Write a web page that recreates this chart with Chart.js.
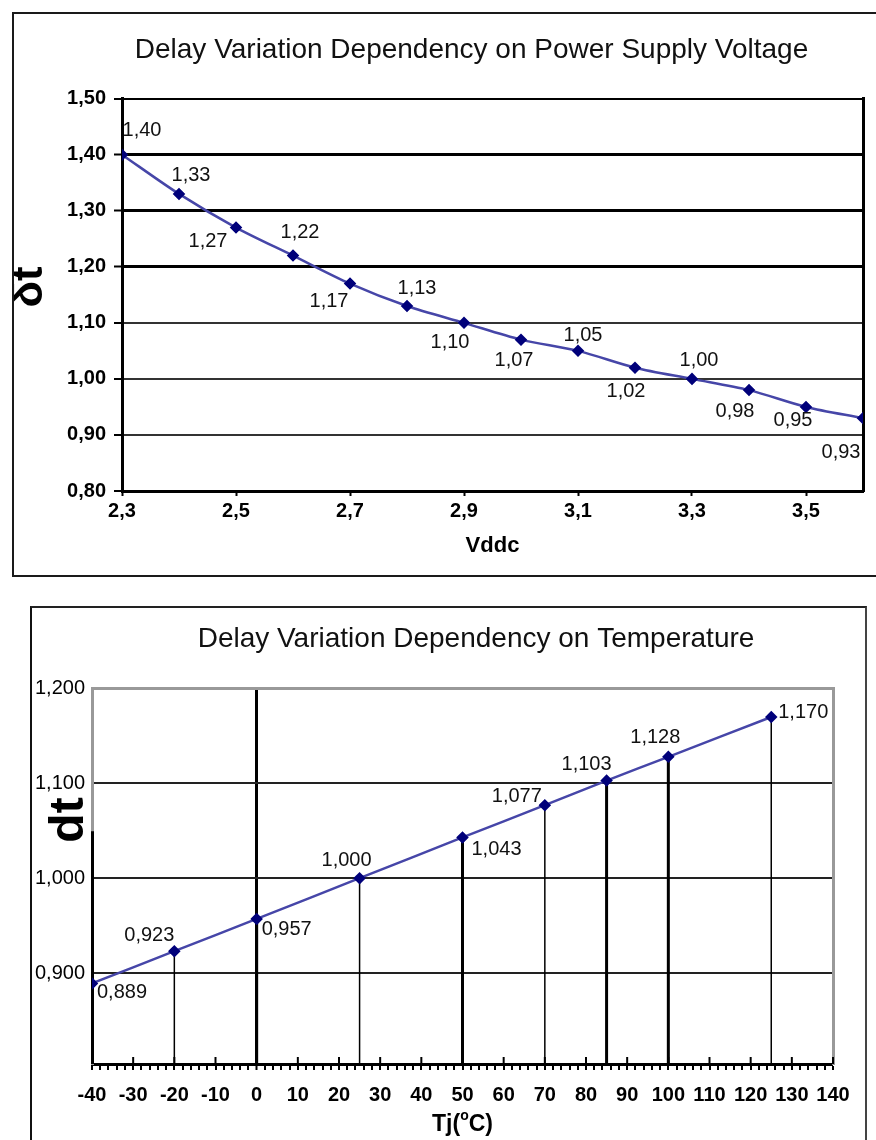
<!DOCTYPE html>
<html>
<head>
<meta charset="utf-8">
<script src="https://cdn.jsdelivr.net/npm/chart.js@4.4.1/dist/chart.umd.min.js"></script>
<style>
  html, body { margin: 0; padding: 0; background: #fff; overflow: hidden; }
  .box { position: absolute; }
  #boxV { left: 12px; top: 12px; width: 900px; height: 561px; border: 2px solid #1a1a1a; }
  #boxT { left: 30px; top: 606px; width: 833px; height: 560px; border-left: 2px solid #111; border-top: 2px solid #222; border-right: 2px solid #444; }
  canvas { position: absolute; left: 0; top: 0; }
</style>
</head>
<body>
<div class="box" id="boxV"><canvas id="voltChart" width="915" height="561"></canvas></div>
<div class="box" id="boxT"><canvas id="tempChart" width="888" height="532"></canvas></div>
<script>
// supply voltage chart
const vddc = [2.3, 2.4, 2.5, 2.6, 2.7, 2.8, 2.9, 3.0, 3.1, 3.2, 3.3, 3.4, 3.5, 3.6];
const delayV = [1.40, 1.33, 1.27, 1.22, 1.17, 1.13, 1.10, 1.07, 1.05, 1.02, 1.00, 0.98, 0.95, 0.93];
const vddcTicks = [2.3, 2.5, 2.7, 2.9, 3.1, 3.3, 3.5];
const delayVTicks = [0.8, 0.9, 1.0, 1.1, 1.2, 1.3, 1.4, 1.5];

// temperature chart
const temps = [-40, -20, 0, 25, 50, 70, 85, 100, 125];
const delayT = [0.889, 0.923, 0.957, 1.000, 1.043, 1.077, 1.103, 1.128, 1.170];
const tempTicks = [-40, -30, -20, -10, 0, 10, 20, 30, 40, 50, 60, 70, 80, 90, 100, 110, 120, 130, 140];
const delayTTicks = [0.9, 1.0, 1.1, 1.2];

Chart.defaults.font.family = "'Liberation Sans', Arial, sans-serif";
Chart.defaults.color = '#000';

const fmt = (v, d) => v.toFixed(d).replace('.', ',');
const tenth = v => Math.round(v * 10);

// drop lines, value labels and rotated axis titles
const extras = {
  id: 'extras',
  beforeDatasetsDraw(chart, args, opts) {
    const {ctx, chartArea} = chart;
    const pts = chart.getDatasetMeta(0).data;
    ctx.save();
    ctx.strokeStyle = '#000';
    (opts.dropWidths || []).forEach((w, i) => {
      if (!w) return;
      ctx.lineWidth = w;
      ctx.beginPath();
      ctx.moveTo(pts[i].x, pts[i].y);
      ctx.lineTo(pts[i].x, chartArea.bottom);
      ctx.stroke();
    });
    if (opts.crossTicks) {
      const xs = chart.scales.x;
      ctx.lineWidth = 2;
      opts.crossTicks.forEach(v => {
        const px = xs.getPixelForValue(v);
        ctx.beginPath();
        ctx.moveTo(px, chartArea.bottom - 7);
        ctx.lineTo(px, chartArea.bottom);
        ctx.stroke();
      });
    }
    if (opts.leftBlack) {
      const px = Math.round(chart.scales.y.right - 1.5) + 1.5;
      ctx.lineWidth = 3;
      ctx.beginPath();
      ctx.moveTo(px, chartArea.bottom);
      ctx.lineTo(px, chartArea.bottom - chartArea.height * opts.leftBlack);
      ctx.stroke();
    }
    ctx.restore();
  },
  afterDatasetsDraw(chart, args, opts) {
    const {ctx, chartArea} = chart;
    const ds = chart.data.datasets[0];
    const pts = chart.getDatasetMeta(0).data;
    ctx.save();
    ctx.font = opts.labelFont;
    ctx.fillStyle = '#111';
    ctx.textAlign = 'center';
    ctx.textBaseline = 'middle';
    pts.forEach((p, i) => {
      const [dx, dy] = opts.labelOffsets[i];
      ctx.fillText(fmt(ds.data[i].y, opts.digits), p.x + dx, p.y + dy);
    });
    const t = opts.sideTitle;
    ctx.font = t.font;
    ctx.fillStyle = '#000';
    ctx.translate(chart.scales.y.left + t.x, chartArea.top + chartArea.height * t.yFrac);
    ctx.rotate(-Math.PI / 2);
    ctx.fillText(t.text, 0, 0);
    ctx.restore();

    if (opts.tempTitle) {
      const big = "bold 23px 'Liberation Sans', Arial, sans-serif";
      const small = "bold 14px 'Liberation Sans', Arial, sans-serif";
      const parts = [['Tj(', big, 0], ['o', small, 11], ['C)', big, 0]];
      ctx.save();
      ctx.fillStyle = '#000';
      ctx.textBaseline = 'alphabetic';
      ctx.textAlign = 'left';
      let total = 0;
      parts.forEach(p => { ctx.font = p[1]; total += ctx.measureText(p[0]).width; });
      let x = (chartArea.left + chartArea.right) / 2 - total / 2;
      const base = chart.height - 9;
      parts.forEach(p => {
        ctx.font = p[1];
        ctx.fillText(p[0], x, base - p[2]);
        x += ctx.measureText(p[0]).width;
      });
      ctx.restore();
    }
  }
};
Chart.register(extras);

new Chart(document.getElementById('voltChart'), {
  type: 'line',
  data: {
    datasets: [{
      data: vddc.map((x, i) => ({x: x, y: delayV[i]})),
      borderColor: '#4646a8',
      borderWidth: 2.5,
      pointStyle: 'rectRot',
      pointRadius: 4.5,
      pointBackgroundColor: '#00007a',
      pointBorderColor: '#00007a',
      tension: 0.3
    }]
  },
  options: {
    responsive: false,
    animation: false,
    devicePixelRatio: 1,
    plugins: {
      legend: {display: false},
      tooltip: {enabled: false},
      title: {
        display: true,
        text: 'Delay Variation Dependency on Power Supply Voltage',
        color: '#111',
        font: {size: 28, weight: 'normal'},
        padding: {top: 19, bottom: 32}
      },
      extras: {
        digits: 2,
        labelFont: "20px 'Liberation Sans', Arial, sans-serif",
        labelOffsets: [[20, -24], [12, -18], [-28, 14], [7, -23], [-21, 18], [10, -18], [-14, 20],
                       [-7, 21], [5, -15], [-9, 24], [7, -18], [-14, 21], [-13, 14], [-22, 34]],
        sideTitle: {text: 'δt', font: "bold 44px 'Liberation Sans', Arial, sans-serif", x: 16, yFrac: 0.48}
      }
    },
    scales: {
      x: {
        type: 'linear',
        min: 2.3,
        max: 3.6,
        afterBuildTicks: s => { s.ticks = vddcTicks.map(v => ({value: v})); },
        afterFit: s => { s.height = 84; },
        ticks: {font: {size: 20, weight: 'bold'}, padding: 3, autoSkip: false, maxRotation: 0,
                callback: v => fmt(v, 1)},
        grid: {drawOnChartArea: false, tickLength: 5, tickWidth: 2, tickColor: '#000'},
        border: {color: '#000', width: 3},
        title: {display: true, text: 'Vddc', font: {size: 22, weight: 'bold'}, padding: {top: 0, bottom: 16}}
      },
      y: {
        min: 0.8,
        max: 1.5,
        afterBuildTicks: s => { s.ticks = delayVTicks.map(v => ({value: v})); },
        afterFit: s => { s.width = 108; },
        ticks: {font: {size: 20, weight: 'bold'}, padding: 8, callback: v => fmt(v, 2)},
        grid: {
          color: c => (tenth(c.tick.value) >= 12 ? '#000' : '#333'),
          lineWidth: c => {
            const t = tenth(c.tick.value);
            if (t === 8) return 0;
            if (t >= 12 && t <= 14) return 3;
            return 2;
          },
          tickLength: 8,
          tickWidth: 2,
          tickColor: '#000'
        },
        border: {color: '#000', width: 3}
      },
      y2: {
        position: 'right',
        afterFit: s => { s.width = 66; },
        ticks: {display: false},
        grid: {display: false, drawTicks: false},
        border: {color: '#000', width: 3}
      }
    }
  }
});

new Chart(document.getElementById('tempChart'), {
  type: 'line',
  data: {
    datasets: [{
      data: temps.map((x, i) => ({x: x, y: delayT[i]})),
      borderColor: '#4646a8',
      borderWidth: 2.5,
      pointStyle: 'rectRot',
      pointRadius: 4.5,
      pointBackgroundColor: '#00007a',
      pointBorderColor: '#00007a',
      tension: 0.2
    }]
  },
  options: {
    responsive: false,
    animation: false,
    devicePixelRatio: 1,
    plugins: {
      legend: {display: false},
      tooltip: {enabled: false},
      title: {
        display: true,
        text: 'Delay Variation Dependency on Temperature',
        color: '#111',
        font: {size: 28, weight: 'normal'},
        padding: {top: 14, bottom: 33}
      },
      extras: {
        digits: 3,
        labelFont: "20px 'Liberation Sans', Arial, sans-serif",
        labelOffsets: [[30, 9], [-25, -16], [30, 11], [-13, -18], [34, 12], [-28, -9], [-20, -16], [-13, -19], [32, -5]],
        dropWidths: [0, 1.5, 3, 1.5, 3, 1.5, 3, 3, 1.5],
        crossTicks: tempTicks,
        leftBlack: 0.62,
        sideTitle: {text: 'dt', font: "bold 48px 'Liberation Sans', Arial, sans-serif", x: 38, yFrac: 0.35},
        tempTitle: true
      }
    },
    scales: {
      x: {
        type: 'linear',
        min: tempTicks[0],
        max: tempTicks[tempTicks.length - 1],
        afterBuildTicks: s => {
          const t = [];
          for (let v = s.min; v <= s.max; v += 2) t.push({value: v});
          s.ticks = t;
        },
        afterFit: s => { s.height = 76; },
        ticks: {font: {size: 20, weight: 'bold'}, padding: 13, autoSkip: false, maxRotation: 0,
                callback: v => (tempTicks.includes(v) ? String(v) : '')},
        grid: {
          drawOnChartArea: true,
          color: c => (c.tick && c.tick.value === 0 ? '#000' : 'rgba(0,0,0,0)'),
          lineWidth: c => (c.tick && c.tick.value === 0 ? 3 : 0),
          tickLength: 6,
          tickWidth: 2,
          tickColor: '#000'
        },
        border: {color: '#000', width: 3}
      },
      y: {
        min: 0.804,
        max: 1.2,
        afterBuildTicks: s => { s.ticks = delayTTicks.map(v => ({value: v})); },
        afterFit: s => { s.width = 60; },
        ticks: {font: {size: 20}, padding: 7, callback: v => fmt(v, 3)},
        grid: {
          color: c => (tenth(c.tick.value) === 12 ? '#999' : '#222'),
          lineWidth: c => (tenth(c.tick.value) === 12 ? 3 : 2),
          drawTicks: false
        },
        border: {color: '#999', width: 3}
      },
      y2: {
        position: 'right',
        afterFit: s => { s.width = 87; },
        ticks: {display: false},
        grid: {display: false, drawTicks: false},
        border: {color: '#999', width: 3}
      }
    }
  }
});
</script>
</body>
</html>
